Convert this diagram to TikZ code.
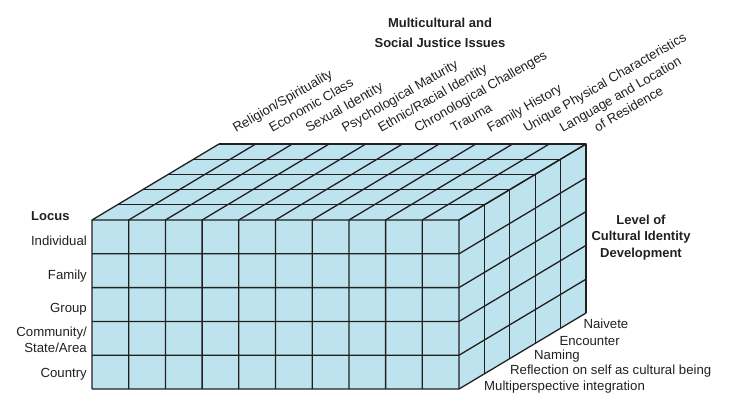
\documentclass[tikz,border=0pt]{standalone}
\usepackage{fontspec}
\setmainfont{Liberation Sans}
\definecolor{cellblue}{RGB}{189,228,238}
\definecolor{edgegray}{RGB}{35,31,32}

\begin{document}
\begin{tikzpicture}[x=1pt, y=1pt,
  grid/.style={line width=1.3pt, edgegray, line join=round},
  lbl/.style={font=\fontsize{13.2}{15.6}\selectfont, inner sep=0pt, text=edgegray},
  ttl/.style={font=\fontsize{13}{16.2}\selectfont\bfseries, inner sep=0pt, text=edgegray, align=center},
  issue/.style={lbl, rotate=30, anchor=base west},
  lvl/.style={lbl, anchor=base west},
  loc/.style={lbl, anchor=base east, align=right}
]
\useasboundingbox (0,0) rectangle (743,407);
% ---------------- cube: 10 issues x 5 loci x 5 levels ----------------
\def\cw{36.7}\def\rh{33.8}\def\dx{25.4}\def\dy{15.2}
\begin{scope}[shift={(92,18)}]
\fill[cellblue] (0,0) rectangle (10*\cw,5*\rh);
\fill[cellblue] (0,5*\rh) -- (10*\cw,5*\rh) -- (10*\cw+5*\dx,5*\rh+5*\dy)
  -- (5*\dx,5*\rh+5*\dy) -- cycle;
\fill[cellblue] (10*\cw,0) -- (10*\cw+5*\dx,5*\dy) -- (10*\cw+5*\dx,5*\rh+5*\dy)
  -- (10*\cw,5*\rh) -- cycle;
\foreach \i in {0,...,10}
  \draw[grid] (\i*\cw,0) -- (\i*\cw,5*\rh) -- ++(5*\dx,5*\dy);
\foreach \j in {0,...,5}
  \draw[grid] (0,\j*\rh) -- (10*\cw,\j*\rh) -- ++(5*\dx,5*\dy);
\foreach \k in {1,...,5}
  \draw[grid] (\k*\dx,5*\rh+\k*\dy) -- ++(10*\cw,0) -- ++(0,-5*\rh);
\end{scope}
% ---------------- locus ----------------
\node[lbl, font=\fontsize{13}{15.6}\selectfont\bfseries, anchor=base west] (locus) at (31,186.3) {Locus};
\node[loc] (individual) at (87,161.3) {Individual};
\node[loc] (family) at (87,128) {Family};
\node[loc] (group) at (87,94.7) {Group};
\node[loc] (community) at (87,54.7) {Community/\\State/Area};
\node[loc] (country) at (87,29.7) {Country};
% ---------------- issues ----------------
\node[ttl] (issues) at (440,374) {Multicultural and\\[3.2pt]Social Justice Issues};
\node[issue] (religion) at (236,274) {Religion/Spirituality};
\node[issue] (economic) at (272.3,274) {Economic Class};
\node[issue] (sexual) at (308.6,274) {Sexual Identity};
\node[issue] (psych) at (344.9,274) {Psychological Maturity};
\node[issue] (ethnic) at (381.2,274) {Ethnic/Racial Identity};
\node[issue] (chrono) at (417.5,274) {Chronological Challenges};
\node[issue] (trauma) at (453.8,274) {Trauma};
\node[issue] (history) at (490.1,274) {Family History};
\node[issue] (physical) at (526.4,274) {Unique Physical Characteristics};
\node[issue, align=center] (language) at (571,259.6) {Language and Location\\[1pt]of Residence};
% ---------------- levels ----------------
\node[ttl] (levels) at (641,169.5) {Level of\\Cultural Identity\\Development};
\node[lvl] (naivete) at (583.3,78.7) {Naivete};
\node[lvl] (encounter) at (559.3,62) {Encounter};
\node[lvl] (naming) at (534,48) {Naming};
\node[lvl] (reflection) at (510,33) {Reflection on self as cultural being};
\node[lvl] (multi) at (484,17) {Multiperspective integration};
\end{tikzpicture}
\end{document}
